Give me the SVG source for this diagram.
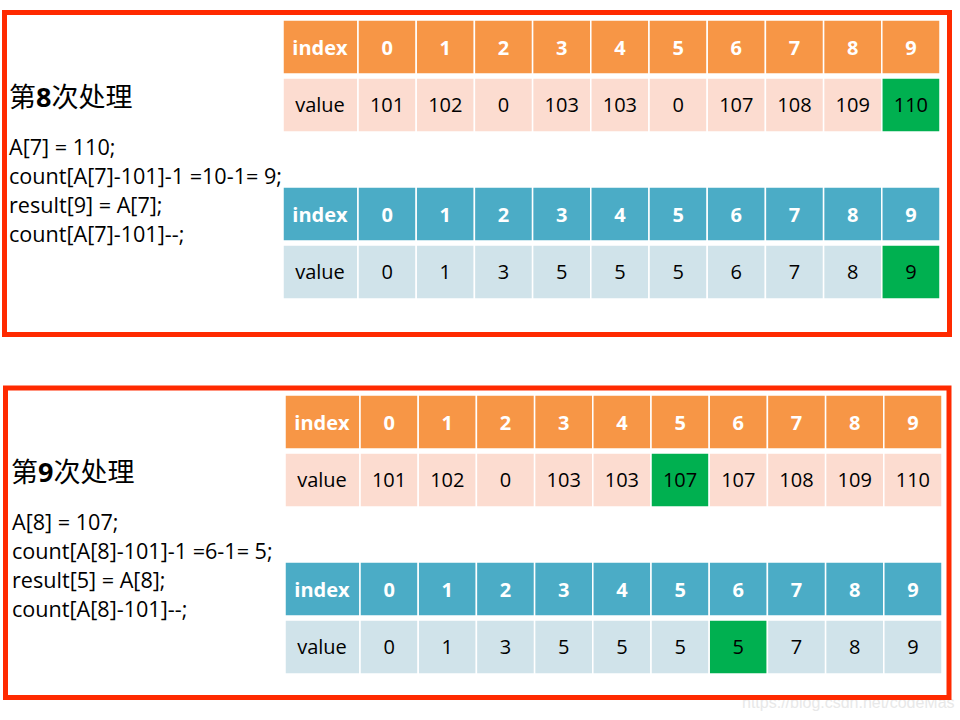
<svg xmlns="http://www.w3.org/2000/svg" width="960" height="720" viewBox="0 0 960 720">
<style>
.ho{fill:#F79646;stroke:#fff;stroke-width:1.5}
.vo{fill:#FCDCD0;stroke:#fff;stroke-width:1.5}
.hb{fill:#4BACC6;stroke:#fff;stroke-width:1.5}
.vb{fill:#D0E3EA;stroke:#fff;stroke-width:1.5}
.g{fill:#00B050;stroke:#fff;stroke-width:1.5}
.ht{font-family:"Open Sans","Liberation Sans",sans-serif;font-size:20px;font-weight:bold;fill:#fff;text-anchor:middle}
.vt{font-family:"Open Sans","Liberation Sans",sans-serif;font-size:20px;fill:#000;text-anchor:middle}
.code{font-family:"Open Sans","Liberation Sans",sans-serif;font-size:21.6px;fill:#000}
.title{font-family:"Noto Sans CJK SC","Open Sans",sans-serif;font-size:27px;fill:#000}
.frame{fill:none;stroke:#FF2A00;stroke-width:5}
.wm{font-family:"Liberation Sans",Arial,sans-serif;font-size:16px;fill:#e8e8e8}
</style>
<rect width="960" height="720" fill="#fff"/>
<text class="wm" x="742" y="708">https://blog.csdn.net/codeMas</text>

<g id="panel8">
<rect class="frame" x="4.5" y="12.5" width="945" height="322"/>
<text class="title" x="9" y="107">第<tspan font-weight="bold" font-family="Open Sans, sans-serif">8</tspan>次处理</text>
<text class="code" x="9" y="155">A[7] = 110;</text>
<text class="code" x="9" y="184">count[A[7]-101]-1 =10-1= 9;</text>
<text class="code" x="9" y="213">result[9] = A[7];</text>
<text class="code" x="9" y="242">count[A[7]-101]--;</text>

<g id="table8a">
<rect class="ho" x="283" y="20" width="75" height="54"/>
<rect class="ho" x="358" y="20" width="58.2" height="54"/>
<rect class="ho" x="416.2" y="20" width="58.2" height="54"/>
<rect class="ho" x="474.4" y="20" width="58.2" height="54"/>
<rect class="ho" x="532.6" y="20" width="58.2" height="54"/>
<rect class="ho" x="590.8" y="20" width="58.2" height="54"/>
<rect class="ho" x="649" y="20" width="58.2" height="54"/>
<rect class="ho" x="707.2" y="20" width="58.2" height="54"/>
<rect class="ho" x="765.4" y="20" width="58.2" height="54"/>
<rect class="ho" x="823.6" y="20" width="58.2" height="54"/>
<rect class="ho" x="881.8" y="20" width="58.2" height="54"/>
<rect class="vo" x="283" y="78" width="75" height="54"/>
<rect class="vo" x="358" y="78" width="58.2" height="54"/>
<rect class="vo" x="416.2" y="78" width="58.2" height="54"/>
<rect class="vo" x="474.4" y="78" width="58.2" height="54"/>
<rect class="vo" x="532.6" y="78" width="58.2" height="54"/>
<rect class="vo" x="590.8" y="78" width="58.2" height="54"/>
<rect class="vo" x="649" y="78" width="58.2" height="54"/>
<rect class="vo" x="707.2" y="78" width="58.2" height="54"/>
<rect class="vo" x="765.4" y="78" width="58.2" height="54"/>
<rect class="vo" x="823.6" y="78" width="58.2" height="54"/>
<rect class="g" x="881.8" y="78" width="58.2" height="54"/>
<text class="ht" x="320" y="55">index</text>
<text class="ht" x="387.1" y="55">0</text>
<text class="ht" x="445.3" y="55">1</text>
<text class="ht" x="503.5" y="55">2</text>
<text class="ht" x="561.7" y="55">3</text>
<text class="ht" x="619.9" y="55">4</text>
<text class="ht" x="678.1" y="55">5</text>
<text class="ht" x="736.3" y="55">6</text>
<text class="ht" x="794.5" y="55">7</text>
<text class="ht" x="852.7" y="55">8</text>
<text class="ht" x="910.9" y="55">9</text>
<text class="vt" x="320" y="112">value</text>
<text class="vt" x="387.1" y="112">101</text>
<text class="vt" x="445.3" y="112">102</text>
<text class="vt" x="503.5" y="112">0</text>
<text class="vt" x="561.7" y="112">103</text>
<text class="vt" x="619.9" y="112">103</text>
<text class="vt" x="678.1" y="112">0</text>
<text class="vt" x="736.3" y="112">107</text>
<text class="vt" x="794.5" y="112">108</text>
<text class="vt" x="852.7" y="112">109</text>
<text class="vt" x="910.9" y="112">110</text>
</g>

<g id="table8b">
<rect class="hb" x="283" y="187" width="75" height="54"/>
<rect class="hb" x="358" y="187" width="58.2" height="54"/>
<rect class="hb" x="416.2" y="187" width="58.2" height="54"/>
<rect class="hb" x="474.4" y="187" width="58.2" height="54"/>
<rect class="hb" x="532.6" y="187" width="58.2" height="54"/>
<rect class="hb" x="590.8" y="187" width="58.2" height="54"/>
<rect class="hb" x="649" y="187" width="58.2" height="54"/>
<rect class="hb" x="707.2" y="187" width="58.2" height="54"/>
<rect class="hb" x="765.4" y="187" width="58.2" height="54"/>
<rect class="hb" x="823.6" y="187" width="58.2" height="54"/>
<rect class="hb" x="881.8" y="187" width="58.2" height="54"/>
<rect class="vb" x="283" y="245" width="75" height="54"/>
<rect class="vb" x="358" y="245" width="58.2" height="54"/>
<rect class="vb" x="416.2" y="245" width="58.2" height="54"/>
<rect class="vb" x="474.4" y="245" width="58.2" height="54"/>
<rect class="vb" x="532.6" y="245" width="58.2" height="54"/>
<rect class="vb" x="590.8" y="245" width="58.2" height="54"/>
<rect class="vb" x="649" y="245" width="58.2" height="54"/>
<rect class="vb" x="707.2" y="245" width="58.2" height="54"/>
<rect class="vb" x="765.4" y="245" width="58.2" height="54"/>
<rect class="vb" x="823.6" y="245" width="58.2" height="54"/>
<rect class="g" x="881.8" y="245" width="58.2" height="54"/>
<text class="ht" x="320" y="222">index</text>
<text class="ht" x="387.1" y="222">0</text>
<text class="ht" x="445.3" y="222">1</text>
<text class="ht" x="503.5" y="222">2</text>
<text class="ht" x="561.7" y="222">3</text>
<text class="ht" x="619.9" y="222">4</text>
<text class="ht" x="678.1" y="222">5</text>
<text class="ht" x="736.3" y="222">6</text>
<text class="ht" x="794.5" y="222">7</text>
<text class="ht" x="852.7" y="222">8</text>
<text class="ht" x="910.9" y="222">9</text>
<text class="vt" x="320" y="279">value</text>
<text class="vt" x="387.1" y="279">0</text>
<text class="vt" x="445.3" y="279">1</text>
<text class="vt" x="503.5" y="279">3</text>
<text class="vt" x="561.7" y="279">5</text>
<text class="vt" x="619.9" y="279">5</text>
<text class="vt" x="678.1" y="279">5</text>
<text class="vt" x="736.3" y="279">6</text>
<text class="vt" x="794.5" y="279">7</text>
<text class="vt" x="852.7" y="279">8</text>
<text class="vt" x="910.9" y="279">9</text>
</g>
</g>

<g id="panel9">
<rect class="frame" x="5.5" y="388" width="943.5" height="309.5"/>
<text class="title" x="11" y="482">第<tspan font-weight="bold" font-family="Open Sans, sans-serif">9</tspan>次处理</text>
<text class="code" x="12" y="530">A[8] = 107;</text>
<text class="code" x="12" y="559">count[A[8]-101]-1 =6-1= 5;</text>
<text class="code" x="12" y="588">result[5] = A[8];</text>
<text class="code" x="12" y="617">count[A[8]-101]--;</text>

<g id="table9a">
<rect class="ho" x="285" y="395" width="75" height="54"/>
<rect class="ho" x="360" y="395" width="58.2" height="54"/>
<rect class="ho" x="418.2" y="395" width="58.2" height="54"/>
<rect class="ho" x="476.4" y="395" width="58.2" height="54"/>
<rect class="ho" x="534.6" y="395" width="58.2" height="54"/>
<rect class="ho" x="592.8" y="395" width="58.2" height="54"/>
<rect class="ho" x="651" y="395" width="58.2" height="54"/>
<rect class="ho" x="709.2" y="395" width="58.2" height="54"/>
<rect class="ho" x="767.4" y="395" width="58.2" height="54"/>
<rect class="ho" x="825.6" y="395" width="58.2" height="54"/>
<rect class="ho" x="883.8" y="395" width="58.2" height="54"/>
<rect class="vo" x="285" y="453" width="75" height="54"/>
<rect class="vo" x="360" y="453" width="58.2" height="54"/>
<rect class="vo" x="418.2" y="453" width="58.2" height="54"/>
<rect class="vo" x="476.4" y="453" width="58.2" height="54"/>
<rect class="vo" x="534.6" y="453" width="58.2" height="54"/>
<rect class="vo" x="592.8" y="453" width="58.2" height="54"/>
<rect class="g" x="651" y="453" width="58.2" height="54"/>
<rect class="vo" x="709.2" y="453" width="58.2" height="54"/>
<rect class="vo" x="767.4" y="453" width="58.2" height="54"/>
<rect class="vo" x="825.6" y="453" width="58.2" height="54"/>
<rect class="vo" x="883.8" y="453" width="58.2" height="54"/>
<text class="ht" x="322" y="430">index</text>
<text class="ht" x="389.1" y="430">0</text>
<text class="ht" x="447.3" y="430">1</text>
<text class="ht" x="505.5" y="430">2</text>
<text class="ht" x="563.7" y="430">3</text>
<text class="ht" x="621.9" y="430">4</text>
<text class="ht" x="680.1" y="430">5</text>
<text class="ht" x="738.3" y="430">6</text>
<text class="ht" x="796.5" y="430">7</text>
<text class="ht" x="854.7" y="430">8</text>
<text class="ht" x="912.9" y="430">9</text>
<text class="vt" x="322" y="487">value</text>
<text class="vt" x="389.1" y="487">101</text>
<text class="vt" x="447.3" y="487">102</text>
<text class="vt" x="505.5" y="487">0</text>
<text class="vt" x="563.7" y="487">103</text>
<text class="vt" x="621.9" y="487">103</text>
<text class="vt" x="680.1" y="487">107</text>
<text class="vt" x="738.3" y="487">107</text>
<text class="vt" x="796.5" y="487">108</text>
<text class="vt" x="854.7" y="487">109</text>
<text class="vt" x="912.9" y="487">110</text>
</g>

<g id="table9b">
<rect class="hb" x="285" y="562" width="75" height="54"/>
<rect class="hb" x="360" y="562" width="58.2" height="54"/>
<rect class="hb" x="418.2" y="562" width="58.2" height="54"/>
<rect class="hb" x="476.4" y="562" width="58.2" height="54"/>
<rect class="hb" x="534.6" y="562" width="58.2" height="54"/>
<rect class="hb" x="592.8" y="562" width="58.2" height="54"/>
<rect class="hb" x="651" y="562" width="58.2" height="54"/>
<rect class="hb" x="709.2" y="562" width="58.2" height="54"/>
<rect class="hb" x="767.4" y="562" width="58.2" height="54"/>
<rect class="hb" x="825.6" y="562" width="58.2" height="54"/>
<rect class="hb" x="883.8" y="562" width="58.2" height="54"/>
<rect class="vb" x="285" y="620" width="75" height="54"/>
<rect class="vb" x="360" y="620" width="58.2" height="54"/>
<rect class="vb" x="418.2" y="620" width="58.2" height="54"/>
<rect class="vb" x="476.4" y="620" width="58.2" height="54"/>
<rect class="vb" x="534.6" y="620" width="58.2" height="54"/>
<rect class="vb" x="592.8" y="620" width="58.2" height="54"/>
<rect class="vb" x="651" y="620" width="58.2" height="54"/>
<rect class="g" x="709.2" y="620" width="58.2" height="54"/>
<rect class="vb" x="767.4" y="620" width="58.2" height="54"/>
<rect class="vb" x="825.6" y="620" width="58.2" height="54"/>
<rect class="vb" x="883.8" y="620" width="58.2" height="54"/>
<text class="ht" x="322" y="597">index</text>
<text class="ht" x="389.1" y="597">0</text>
<text class="ht" x="447.3" y="597">1</text>
<text class="ht" x="505.5" y="597">2</text>
<text class="ht" x="563.7" y="597">3</text>
<text class="ht" x="621.9" y="597">4</text>
<text class="ht" x="680.1" y="597">5</text>
<text class="ht" x="738.3" y="597">6</text>
<text class="ht" x="796.5" y="597">7</text>
<text class="ht" x="854.7" y="597">8</text>
<text class="ht" x="912.9" y="597">9</text>
<text class="vt" x="322" y="654">value</text>
<text class="vt" x="389.1" y="654">0</text>
<text class="vt" x="447.3" y="654">1</text>
<text class="vt" x="505.5" y="654">3</text>
<text class="vt" x="563.7" y="654">5</text>
<text class="vt" x="621.9" y="654">5</text>
<text class="vt" x="680.1" y="654">5</text>
<text class="vt" x="738.3" y="654">5</text>
<text class="vt" x="796.5" y="654">7</text>
<text class="vt" x="854.7" y="654">8</text>
<text class="vt" x="912.9" y="654">9</text>
</g>
</g>
</svg>
